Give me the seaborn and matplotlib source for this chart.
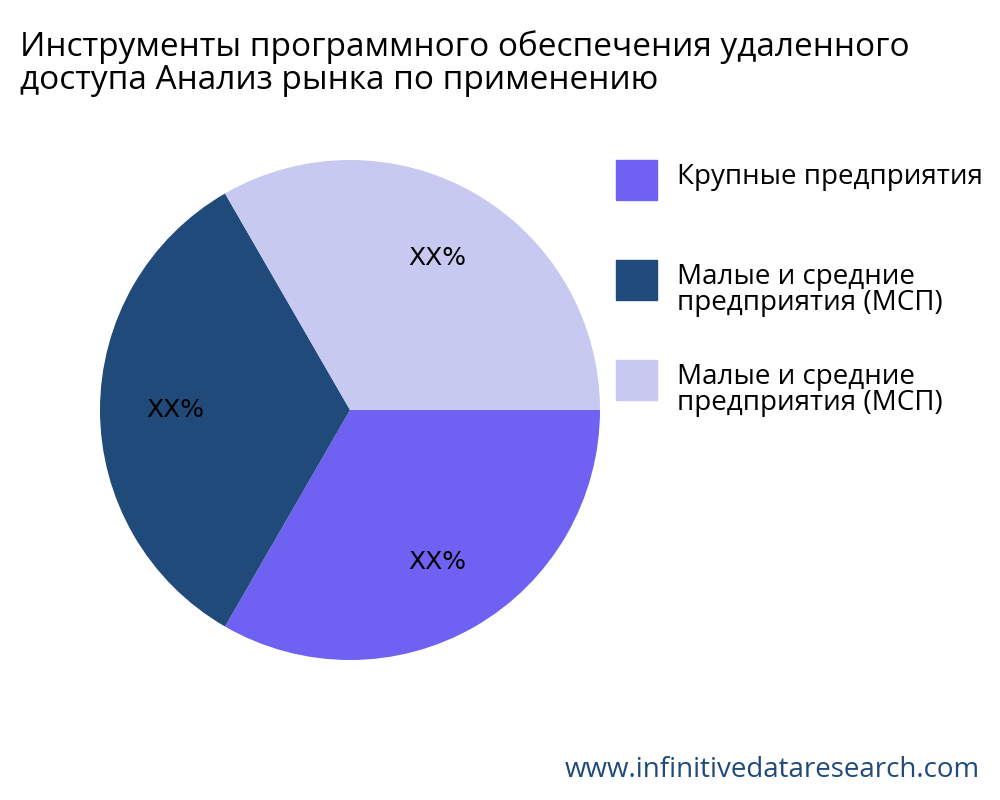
import numpy as np
import matplotlib.pyplot as plt
import seaborn as sns

sns.set_style("white")
plt.rcParams['font.family'] = ['Open Sans', 'DejaVu Sans']

labels = ["Крупные предприятия",
          "Малые и средние\nпредприятия (МСП)",
          "Малые и средние\nпредприятия (МСП)"]
values = [1, 1, 1]
pct_text = ["XX%", "XX%", "XX%"]
colors = ["#6f62f2", "#1f4a7a", "#c8c9f0"]

fig = plt.figure(figsize=(10, 8), dpi=100)
ax = fig.add_axes([0.1, 0.175, 0.5, 0.625])
wedges, _ = ax.pie(values, colors=colors, startangle=0, counterclock=False,
                   radius=1.0, wedgeprops=dict(linewidth=0))
for w, t in zip(wedges, pct_text):
    ang = np.deg2rad((w.theta1 + w.theta2) / 2)
    ax.text(0.7 * np.cos(ang), 0.7 * np.sin(ang), t, ha="center", va="center",
            fontsize=18, color="black", family=["DejaVu Sans"])
ax.set_xlim(-1, 1)
ax.set_ylim(-1, 1)
ax.set_aspect("equal")

fig.text(0.02, 0.962, "Инструменты программного обеспечения удаленного\nдоступа Анализ рынка по применению",
         fontsize=24, va="top", ha="left", linespacing=1.0, color="black")

# legend
ys = [0.75, 0.625, 0.5]
for y, lab, c in zip(ys, labels, colors):
    fig.patches.append(plt.Rectangle((0.616, y), 0.041, 0.05, color=c,
                                     transform=fig.transFigure, figure=fig))
    fig.text(0.677, y + 0.046, lab, fontsize=20, va="top", ha="left",
             linespacing=0.9, color="black")

fig.text(0.98, 0.02, "www.infinitivedataresearch.com", fontsize=20,
         color="#1f4a7a", ha="right", va="bottom")

fig.savefig("out.png", dpi=100)
